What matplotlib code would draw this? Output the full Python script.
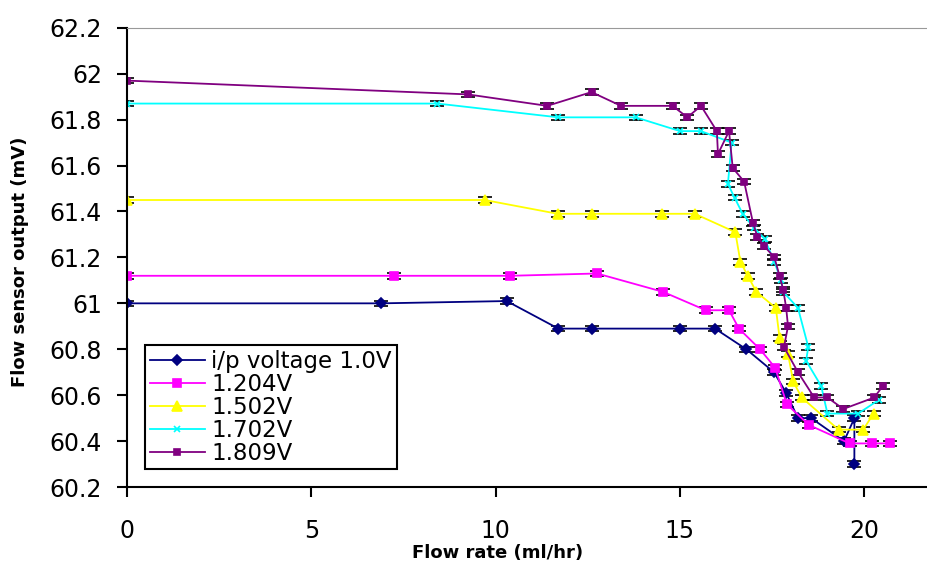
import numpy as np
import matplotlib.pyplot as plt
from matplotlib.lines import Line2D

plt.rcParams['font.family'] = ['DejaVu Sans']

# 数据：流量 (ml/hr) 与传感器输出 (mV)
x1 = [0, 6.9, 10.3, 11.7, 12.6, 15.0, 15.95, 16.8, 17.55, 17.88, 18.2, 18.56, 19.45, 19.73, 19.73]
y1 = [61.0, 61.0, 61.01, 60.89, 60.89, 60.89, 60.89, 60.8, 60.7, 60.61, 60.5, 60.5, 60.4, 60.5, 60.3]

x2 = [0, 7.25, 10.4, 12.75, 14.54, 15.7, 16.33, 16.6, 17.17, 17.58, 17.9, 18.5, 19.6, 20.2, 20.7]
y2 = [61.12, 61.12, 61.12, 61.13, 61.05, 60.97, 60.97, 60.89, 60.8, 60.72, 60.56, 60.47, 60.39, 60.39, 60.39]

x3 = [0, 9.7, 11.68, 12.6, 14.5, 15.4, 16.5, 16.64, 16.84, 17.07, 17.6, 17.7, 17.93, 18.07, 18.3, 19.3, 19.97, 20.25]
y3 = [61.45, 61.45, 61.39, 61.39, 61.39, 61.39, 61.31, 61.18, 61.12, 61.05, 60.98, 60.85, 60.78, 60.66, 60.59, 60.45, 60.45, 60.52]

x4 = [0, 8.42, 11.7, 13.8, 15.0, 15.57, 16.4, 16.3, 16.48, 16.7, 17.0, 17.3, 17.56, 17.74, 17.8, 18.2, 18.48, 18.42, 18.83, 19.0, 19.83, 20.4]
y4 = [61.87, 61.87, 61.81, 61.81, 61.75, 61.75, 61.7, 61.52, 61.46, 61.39, 61.33, 61.28, 61.18, 61.1, 61.05, 60.98, 60.81, 60.75, 60.64, 60.52, 60.52, 60.58]

x5 = [0, 9.24, 11.4, 12.6, 13.4, 14.8, 15.2, 15.57, 16.0, 16.03, 16.33, 16.43, 16.74, 16.98, 17.1, 17.28, 17.56, 17.7, 17.8, 17.88, 17.93, 17.82, 18.2, 18.64, 19.0, 19.43, 20.27, 20.5]
y5 = [61.97, 61.91, 61.86, 61.92, 61.86, 61.86, 61.81, 61.86, 61.75, 61.65, 61.75, 61.59, 61.53, 61.35, 61.29, 61.25, 61.2, 61.12, 61.06, 60.98, 60.9, 60.81, 60.7, 60.59, 60.59, 60.54, 60.59, 60.64]

labels = ['i/p voltage 1.0V', '1.204V', '1.502V', '1.702V', '1.809V']
colors = ['#000080', '#FF00FF', '#FFFF00', '#00FFFF', '#800080']
markers = ['D', 's', '^', 'x', 's']
msizes = [5, 6, 7, 5, 4]

fig = plt.figure(figsize=(9.27, 5.67), dpi=100)
ax = fig.add_axes([0.137, 0.141, 0.863, 0.81])

series = [(x1, y1), (x2, y2), (x3, y3), (x4, y4), (x5, y5)]
handles = []
for (xs, ys), lab, c, m, ms in zip(series, labels, colors, markers, msizes):
    ax.errorbar(xs, ys, yerr=0.012, color=c, marker=m, markersize=ms, linewidth=1.3,
                ecolor='black', elinewidth=1, capsize=5, capthick=1.2,
                markeredgecolor=c, markeredgewidth=1.2)
    handles.append(Line2D([], [], color=c, marker=m, markersize=ms, linewidth=1.3,
                          markeredgecolor=c, markeredgewidth=1.2, label=lab))

ax.set_xlim(0, 21.7)
ax.set_ylim(60.2, 62.2)
ax.set_xticks([0, 5, 10, 15, 20])
ax.set_yticks(np.arange(60.2, 62.21, 0.2))
ax.set_yticklabels(['60.2', '60.4', '60.6', '60.8', '61', '61.2', '61.4', '61.6', '61.8', '62', '62.2'])

ax.spines['right'].set_visible(False)
ax.spines['top'].set_color('#999999')
ax.spines['left'].set_linewidth(1.5)
ax.spines['bottom'].set_linewidth(1.5)
ax.tick_params(direction='out', length=7, width=1.5, labelsize=17, colors='black')
ax.tick_params(axis='x', pad=16)
ax.tick_params(axis='y', pad=11)

ax.set_xlabel('Flow rate (ml/hr)', fontsize=13, fontweight='bold', labelpad=0)
ax.xaxis.set_label_coords(0.463, -0.123)
ax.set_ylabel('Flow sensor output (mV)', fontsize=13, fontweight='bold')
ax.yaxis.set_label_coords(-0.122, 0.49)

leg = ax.legend(handles=handles, loc='lower left', bbox_to_anchor=(0.0225, 0.039), borderaxespad=0,
                fontsize=16.5, labelspacing=0.0, handlelength=2.4, handletextpad=0.3,
                borderpad=0.2, fancybox=False, framealpha=1)
leg.get_frame().set_edgecolor('black')
leg.get_frame().set_linewidth(1.5)

plt.savefig('out.png', dpi=100)
